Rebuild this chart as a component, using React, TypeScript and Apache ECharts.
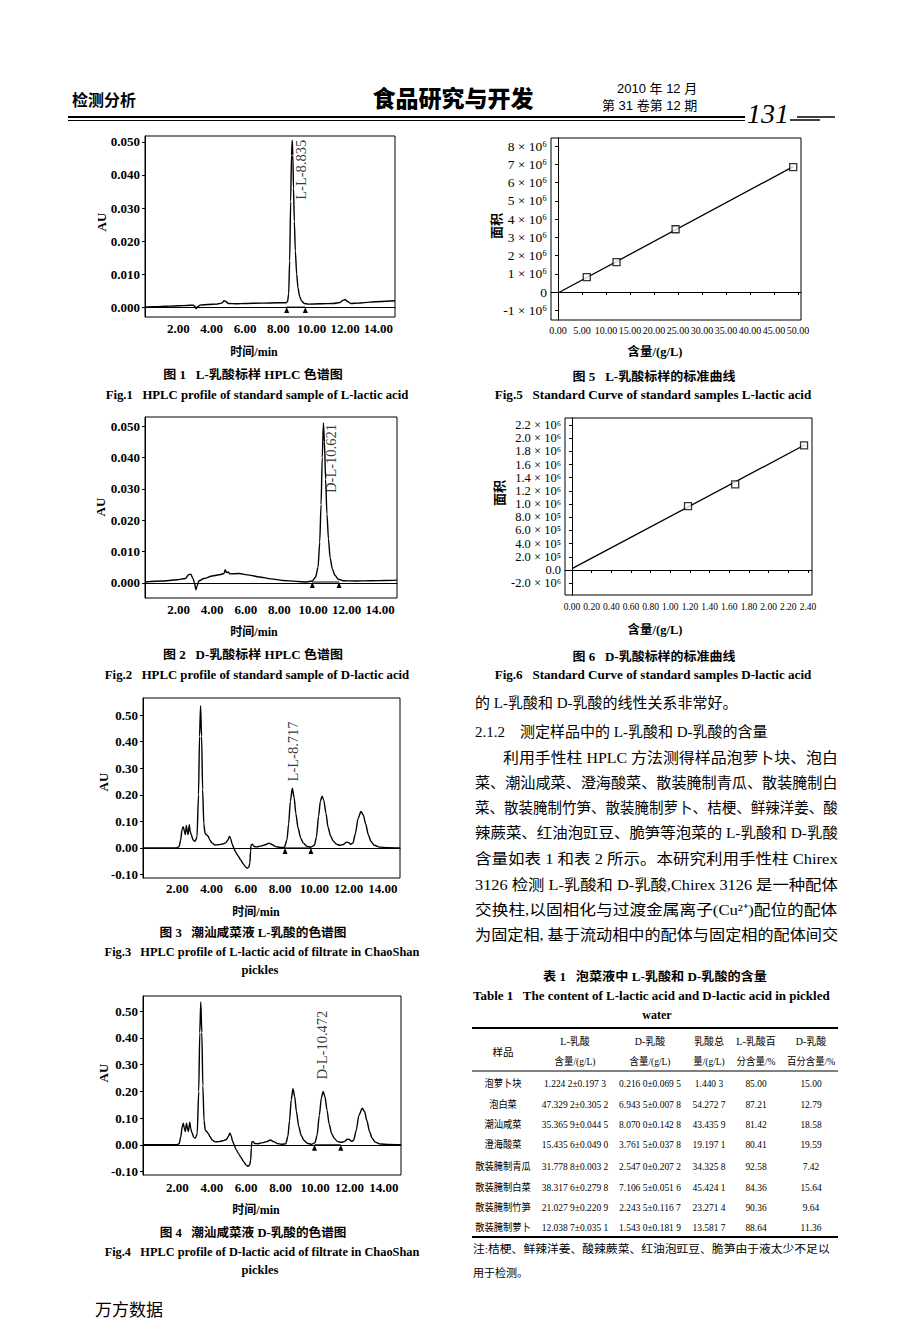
import React, { useEffect, useRef } from "react";
import * as echarts from "echarts";

const SERIF = "'Liberation Serif', 'Noto Sans CJK SC', serif";
const SANS = "'Liberation Sans', 'Noto Sans CJK SC', sans-serif";
const CJK = "'Noto Sans CJK SC', sans-serif";

// ---------- axis ticks / labels ----------
const timeTicks = [2, 4, 6, 8, 10, 12, 14];
const auTicksStd = [0, 0.01, 0.02, 0.03, 0.04, 0.05];
const auTicksSample = [-0.1, 0, 0.1, 0.2, 0.3, 0.4, 0.5];
const fig5XTicks = [0, 5, 10, 15, 20, 25, 30, 35, 40, 45, 50];
const fig5YTicks = [-1e6, 0, 1e6, 2e6, 3e6, 4e6, 5e6, 6e6, 7e6, 8e6];
const fig5YLabels = ["-1 × 10⁶", "0", "1 × 10⁶", "2 × 10⁶", "3 × 10⁶", "4 × 10⁶", "5 × 10⁶", "6 × 10⁶", "7 × 10⁶", "8 × 10⁶"];
const fig6XTicks = [0, 0.2, 0.4, 0.6, 0.8, 1.0, 1.2, 1.4, 1.6, 1.8, 2.0, 2.2, 2.4];
const fig6YTicks = [-2e5, 0, 2e5, 4e5, 6e5, 8e5, 1e6, 1.2e6, 1.4e6, 1.6e6, 1.8e6, 2.0e6, 2.2e6];
const fig6YLabels = ["-2.0 × 10⁶", "0.0", "2.0 × 10⁵", "4.0 × 10⁵", "6.0 × 10⁵", "8.0 × 10⁵", "1.0 × 10⁶", "1.2 × 10⁶", "1.4 × 10⁶", "1.6 × 10⁶", "1.8 × 10⁶", "2.0 × 10⁶", "2.2 × 10⁶"];

// ---------- chromatograms [time(min), AU] ----------
const fig1Trace = [
  [0, 0.0], [0.5, 0.0001], [1, 0.0002], [1.5, 0.0003], [2, 0.0004], [2.5, 0.0005], [2.9, 0.0006], [3.0, 0.0002], [3.07, -0.0005], [3.15, 0.0001], [3.3, 0.0006],
  [3.8, 0.0008], [4.3, 0.0009], [4.6, 0.0012], [4.75, 0.0019], [4.85, 0.0017], [5.0, 0.0011], [5.5, 0.001], [6, 0.0011], [7, 0.0012], [8, 0.0013], [8.45, 0.0013],
  [8.55, 0.0016], [8.62, 0.004], [8.68, 0.014], [8.74, 0.032], [8.79, 0.046], [8.835, 0.0505], [8.87, 0.046], [8.91, 0.036], [8.96, 0.026], [9.02, 0.017],
  [9.1, 0.01], [9.18, 0.0058], [9.28, 0.0032], [9.4, 0.0018], [9.55, 0.0011], [9.8, 0.0009], [10.5, 0.001], [11.3, 0.0011], [11.7, 0.0014], [11.9, 0.0021],
  [12.0, 0.0023], [12.15, 0.0017], [12.35, 0.0011], [12.8, 0.0012], [13.5, 0.0015], [14.2, 0.0017], [15, 0.0019],
];
const fig1Marks = [[8.5, 0], [9.62, 0]];
const fig1Peak = { t: 9.4, au: 0.0505, name: "L-L-8.835" };

const fig2Trace = [
  [0, 0.0003], [1, 0.0006], [1.9, 0.001], [2.4, 0.0014], [2.6, 0.0026], [2.72, 0.0028], [2.85, 0.0015], [2.95, 0.0], [3.03, -0.0022], [3.1, -0.001], [3.2, 0.0006],
  [3.5, 0.0014], [4.0, 0.0022], [4.5, 0.0027], [4.7, 0.003], [4.78, 0.0042], [4.85, 0.0033], [4.95, 0.0035], [5.05, 0.0029], [5.6, 0.003], [6.2, 0.0025],
  [6.8, 0.0019], [7.5, 0.0013], [8.2, 0.0008], [9.0, 0.0005], [9.6, 0.0003], [9.95, 0.0006], [10.15, 0.0018], [10.3, 0.005], [10.4, 0.013], [10.48, 0.025],
  [10.55, 0.04], [10.621, 0.051], [10.68, 0.045], [10.75, 0.033], [10.83, 0.022], [10.92, 0.014], [11.02, 0.008], [11.15, 0.0045], [11.3, 0.0025],
  [11.5, 0.0012], [11.8, 0.0007], [12.5, 0.0006], [13.5, 0.0007], [14.3, 0.0008], [15, 0.0009],
];
const fig2Marks = [[9.96, 0.0003], [11.55, 0.0003]];
const fig2Peak = { t: 11.13, au: 0.0505, name: "D-L-10.621" };

const fig3Trace = [
  [0, 0], [1, 0], [1.95, 0], [2.1, 0.004], [2.2, 0.03], [2.28, 0.07], [2.35, 0.08], [2.42, 0.062], [2.47, 0.05], [2.53, 0.085], [2.59, 0.06], [2.63, 0.05],
  [2.7, 0.087], [2.76, 0.06], [2.82, 0.05], [2.92, 0.03], [3.04, 0.025], [3.15, 0.04], [3.24, 0.2], [3.3, 0.42], [3.36, 0.535], [3.42, 0.42], [3.48, 0.22],
  [3.55, 0.09], [3.62, 0.055], [3.7, 0.05], [3.8, 0.044], [3.9, 0.03], [4.02, 0.019], [4.2, 0.011], [4.4, 0.012], [4.65, 0.015], [4.85, 0.02], [4.95, 0.03],
  [5.05, 0.043], [5.12, 0.035], [5.2, 0.015], [5.3, 0.0], [5.4, -0.015], [5.55, -0.03], [5.7, -0.045], [5.85, -0.06], [6.0, -0.072], [6.1, -0.076],
  [6.18, -0.072], [6.24, -0.055], [6.28, -0.01], [6.31, 0.012], [6.38, 0.014], [6.5, 0.005], [6.65, 0.004], [6.9, 0.008], [7.15, 0.012], [7.35, 0.018], [7.55, 0.012],
  [7.75, 0.005], [8.0, 0.002], [8.25, 0.002], [8.4, 0.03], [8.5, 0.09], [8.6, 0.175], [8.717, 0.225], [8.82, 0.19], [8.92, 0.13], [9.05, 0.075], [9.2, 0.038],
  [9.35, 0.019], [9.55, 0.007], [9.8, 0.003], [10.0, 0.01], [10.12, 0.04], [10.25, 0.12], [10.35, 0.175], [10.45, 0.195], [10.55, 0.18], [10.68, 0.13],
  [10.8, 0.078], [10.95, 0.045], [11.1, 0.026], [11.3, 0.014], [11.5, 0.01], [11.7, 0.013], [11.88, 0.022], [12.0, 0.02], [12.12, 0.014], [12.25, 0.018],
  [12.4, 0.055], [12.55, 0.11], [12.72, 0.137], [12.85, 0.125], [13.0, 0.09], [13.15, 0.05], [13.3, 0.025], [13.5, 0.01], [13.8, 0.003], [14.3, 0.001], [15, 0],
];
const fig3Marks = [[8.29, 0], [9.8, 0]];
const fig3Peak = { t: 8.76, au: 0.474, name: "L-L-8.717" };

const fig4Trace = [
  [0, 0], [1, 0], [1.95, 0], [2.1, 0.004], [2.2, 0.03], [2.27, 0.065], [2.34, 0.081], [2.41, 0.06], [2.46, 0.05], [2.53, 0.081], [2.59, 0.06], [2.64, 0.05],
  [2.72, 0.085], [2.78, 0.06], [2.85, 0.045], [2.95, 0.028], [3.04, 0.025], [3.15, 0.04], [3.24, 0.2], [3.3, 0.42], [3.36, 0.535], [3.42, 0.42], [3.48, 0.22],
  [3.55, 0.09], [3.62, 0.055], [3.7, 0.05], [3.8, 0.042], [3.9, 0.03], [4.02, 0.018], [4.2, 0.011], [4.4, 0.012], [4.65, 0.015], [4.85, 0.02], [4.95, 0.03],
  [5.05, 0.043], [5.12, 0.035], [5.2, 0.015], [5.3, 0.0], [5.4, -0.016], [5.55, -0.032], [5.7, -0.048], [5.85, -0.063], [6.0, -0.076], [6.1, -0.08],
  [6.2, -0.076], [6.26, -0.058], [6.3, -0.01], [6.33, 0.012], [6.4, 0.012], [6.5, 0.005], [6.7, 0.004], [6.95, 0.008], [7.2, 0.012], [7.4, 0.018], [7.6, 0.012],
  [7.8, 0.005], [8.05, 0.002], [8.3, 0.004], [8.42, 0.03], [8.52, 0.09], [8.62, 0.17], [8.72, 0.21], [8.82, 0.18], [8.92, 0.125], [9.05, 0.07], [9.2, 0.035],
  [9.35, 0.017], [9.55, 0.006], [9.8, 0.002], [10.0, 0.008], [10.12, 0.035], [10.25, 0.11], [10.37, 0.175], [10.472, 0.2], [10.58, 0.18], [10.7, 0.13],
  [10.82, 0.078], [10.97, 0.042], [11.12, 0.024], [11.3, 0.013], [11.5, 0.009], [11.7, 0.012], [11.88, 0.021], [12.0, 0.02], [12.12, 0.013], [12.25, 0.017],
  [12.4, 0.055], [12.55, 0.11], [12.75, 0.137], [12.88, 0.125], [13.02, 0.09], [13.17, 0.05], [13.32, 0.025], [13.5, 0.01], [13.8, 0.003], [14.3, 0.001], [15, 0],
];
const fig4Marks = [[9.97, 0], [11.5, 0]];
const fig4Peak = { t: 10.41, au: 0.5, name: "D-L-10.472" };

// ---------- standard curves [g/L, area] ----------
const fig5Points = [[6.0, 0.82e6], [12.2, 1.64e6], [24.5, 3.44e6], [49.0, 6.85e6]];
const fig5Fit = [[0, -0.05e6], [49.0, 6.87e6]];
const fig6Points = [[1.18, 0.97e6], [1.66, 1.3e6], [2.36, 1.89e6]];
const fig6Fit = [[0, 0.02e6], [2.37, 1.9e6]];

// ---------- table 1 ----------
const tableHead1 = ["L-乳酸", "D-乳酸", "乳酸总", "L-乳酸百", "D-乳酸"];
const tableHead2 = ["含量/(g/L)", "含量/(g/L)", "量/(g/L)", "分含量/%", "百分含量/%"];
const tableSamples = ["泡萝卜块", "泡白菜", "潮汕咸菜", "澄海酸菜", "散装腌制青瓜", "散装腌制白菜", "散装腌制竹笋", "散装腌制萝卜"];
const tableLContent = ["1.224 2±0.197 3", "47.329 2±0.305 2", "35.365 9±0.044 5", "15.435 6±0.049 0", "31.778 8±0.003 2", "38.317 6±0.279 8", "21.027 9±0.220 9", "12.038 7±0.035 1"];
const tableDContent = ["0.216 0±0.069 5", "6.943 5±0.007 8", "8.070 0±0.142 8", "3.761 5±0.037 8", "2.547 0±0.207 2", "7.106 5±0.051 6", "2.243 5±0.116 7", "1.543 0±0.181 9"];
const tableTotal = ["1.440 3", "54.272 7", "43.435 9", "19.197 1", "34.325 8", "45.424 1", "23.271 4", "13.581 7"];
const tableLPct = ["85.00", "87.21", "81.42", "80.41", "92.58", "84.36", "90.36", "88.64"];
const tableDPct = ["15.00", "12.79", "18.58", "19.59", "7.42", "15.64", "9.64", "11.36"];

// ---------- body text ----------
const bodyLines = [
  "的 L-乳酸和 D-乳酸的线性关系非常好。",
  "2.1.2",
  "利用手性柱 HPLC 方法测得样品泡萝卜块、泡白",
  "菜、潮汕咸菜、澄海酸菜、散装腌制青瓜、散装腌制白",
  "菜、散装腌制竹笋、散装腌制萝卜、桔梗、鲜辣洋姜、酸",
  "辣蕨菜、红油泡豇豆、脆笋等泡菜的 L-乳酸和 D-乳酸",
  "含量如表 1 和表 2 所示。本研究利用手性柱 Chirex",
  "3126 检测 L-乳酸和 D-乳酸,Chirex 3126 是一种配体",
  "交换柱,以固相化与过渡金属离子(Cu²⁺)配位的配体",
  "为固定相, 基于流动相中的配体与固定相的配体间交",
];
const sectionTitle = "测定样品中的 L-乳酸和 D-乳酸的含量";

function lookup(ticks: number[], labels: string[], v: number) {
  let best = 0;
  for (let i = 1; i < ticks.length; i++) if (Math.abs(ticks[i] - v) < Math.abs(ticks[best] - v)) best = i;
  return labels[best];
}

let measureCtx: CanvasRenderingContext2D | null = null;
function measure(text: string, font: string) {
  if (!measureCtx) measureCtx = document.createElement("canvas").getContext("2d");
  if (!measureCtx) return 0;
  measureCtx.font = font;
  return measureCtx.measureText(text).width;
}

function buildOption() {
  const black = "#000";
  const grids = [
    { left: 145, top: 136, width: 250, height: 181 },
    { left: 145, top: 417, width: 252, height: 181 },
    { left: 143, top: 698, width: 257, height: 180 },
    { left: 143, top: 996, width: 258, height: 179 },
    { left: 551, top: 138, width: 250, height: 182 },
    { left: 565, top: 418, width: 247, height: 177 },
  ].map((g) => ({ ...g, show: true, borderColor: black, borderWidth: 1, backgroundColor: "transparent" }));

  const lineAxis = { show: true, lineStyle: { color: black, width: 1 } };
  const timeAxis = (gi: number, margin: number) => ({
    type: "value", gridIndex: gi, min: 0, max: 15,
    axisLine: lineAxis, axisTick: { show: false }, splitLine: { show: false },
    axisLabel: { customValues: timeTicks, formatter: (v: number) => v.toFixed(2), color: black, fontFamily: SERIF, fontSize: 13, fontWeight: "bold", margin },
  });
  const auAxis = (gi: number, min: number, max: number, ticks: number[], dec: number) => ({
    type: "value", gridIndex: gi, min, max,
    axisLine: lineAxis, splitLine: { show: false },
    axisTick: { show: true, customValues: ticks, length: 3, lineStyle: { color: black } },
    axisLabel: { customValues: ticks, formatter: (v: number) => v.toFixed(dec), color: black, fontFamily: SERIF, fontSize: 13, fontWeight: "bold", margin: 5 },
  });

  const xAxis = [
    timeAxis(0, 5), timeAxis(1, 5), timeAxis(2, 4), timeAxis(3, 6),
    {
      type: "value", gridIndex: 4, min: -1.45, max: 50.62, axisLine: lineAxis, splitLine: { show: false },
      axisTick: { show: true, customValues: fig5XTicks, length: 3, lineStyle: { color: black } },
      axisLabel: { customValues: fig5XTicks, formatter: (v: number) => v.toFixed(2), color: black, fontFamily: SERIF, fontSize: 10, margin: 5 },
    },
    {
      type: "value", gridIndex: 5, min: -0.071, max: 2.441, axisLine: lineAxis, splitLine: { show: false },
      axisTick: { show: true, customValues: fig6XTicks, length: 3, lineStyle: { color: black } },
      axisLabel: { customValues: fig6XTicks, formatter: (v: number) => v.toFixed(2), color: black, fontFamily: SERIF, fontSize: 9.5, margin: 7 },
    },
  ];
  const yAxis = [
    auAxis(0, -0.003, 0.0518, auTicksStd, 3),
    auAxis(1, -0.0048, 0.0529, auTicksStd, 3),
    auAxis(2, -0.113, 0.564, auTicksSample, 2),
    auAxis(3, -0.113, 0.557, auTicksSample, 2),
    {
      type: "value", gridIndex: 4, min: -1.53e6, max: 8.44e6, axisLine: lineAxis, splitLine: { show: false },
      axisTick: { show: true, customValues: fig5YTicks, length: 3, lineStyle: { color: black } },
      axisLabel: { customValues: fig5YTicks, formatter: (v: number) => lookup(fig5YTicks, fig5YLabels, v), color: black, fontFamily: SERIF, fontSize: 13.5, margin: 4 },
    },
    {
      type: "value", gridIndex: 5, min: -0.379e6, max: 2.306e6, axisLine: lineAxis, splitLine: { show: false },
      axisTick: { show: true, customValues: fig6YTicks, length: 3, lineStyle: { color: black } },
      axisLabel: { customValues: fig6YTicks, formatter: (v: number) => lookup(fig6YTicks, fig6YLabels, v), color: black, fontFamily: SERIF, fontSize: 12.5, margin: 4 },
    },
  ];

  const series: any[] = [];
  const chrom = [
    { trace: fig1Trace, marks: fig1Marks, peak: fig1Peak },
    { trace: fig2Trace, marks: fig2Marks, peak: fig2Peak },
    { trace: fig3Trace, marks: fig3Marks, peak: fig3Peak },
    { trace: fig4Trace, marks: fig4Marks, peak: fig4Peak },
  ];
  chrom.forEach((c, i) => {
    series.push({
      type: "line", xAxisIndex: i, yAxisIndex: i, data: c.trace, symbol: "none", smooth: 0.25, smoothMonotone: "x",
      lineStyle: { color: black, width: 1.4 }, silent: true, z: 3,
    });
    series.push({
      type: "line", xAxisIndex: i, yAxisIndex: i, data: c.marks, symbol: "triangle", symbolSize: [5, 6], symbolOffset: [0, 3],
      itemStyle: { color: black }, lineStyle: { color: black, width: 1 }, silent: true, z: 4,
    });
    series.push({
      type: "scatter", xAxisIndex: i, yAxisIndex: i, data: [[c.peak.t, c.peak.au]], symbolSize: 1,
      itemStyle: { color: "rgba(0,0,0,0)" }, silent: true, z: 5,
      label: {
        show: true, formatter: c.peak.name, position: [0, 0], rotate: 90, align: "right", verticalAlign: "middle",
        color: black, fontFamily: SERIF, fontSize: 14.5,
      },
    });
  });
  [
    { fit: fig5Fit, pts: fig5Points, gi: 4 },
    { fit: fig6Fit, pts: fig6Points, gi: 5 },
  ].forEach((s) => {
    series.push({ type: "line", xAxisIndex: s.gi, yAxisIndex: s.gi, data: s.fit, symbol: "none", lineStyle: { color: black, width: 1.3 }, silent: true });
    series.push({
      type: "scatter", xAxisIndex: s.gi, yAxisIndex: s.gi, data: s.pts, symbol: "rect", symbolSize: 7,
      itemStyle: { color: "#fff", borderColor: black, borderWidth: 1.3 }, silent: true, z: 4,
    });
  });

  // ---------- graphic texts ----------
  const g: any[] = [];
  const T = (x: number, y: number, text: string, o: any = {}) => {
    const ff = o.ff || SERIF, fs = o.fs || 12, fw = o.fw || "normal", fst = o.fst || "normal";
    let scaleX = o.sx || 1;
    if (o.w) {
      const m = measure(text, `${fst} ${fw} ${fs}px ${ff}`);
      if (m > 0) scaleX = o.w / m;
    }
    g.push({
      type: "text", x, y, rotation: o.rot || 0, scaleX, silent: true, z: 10,
      style: {
        text, fill: black, align: o.align || "left", verticalAlign: "middle",
        fontFamily: ff, fontSize: fs, fontWeight: fw, fontStyle: fst,
      },
    });
  };
  const L = (x1: number, y1: number, x2: number, y2: number, w: number) => {
    g.push({ type: "line", silent: true, z: 10, shape: { x1, y1, x2, y2 }, style: { stroke: black, lineWidth: w } });
  };

  // header
  T(72, 99, "检测分析", { ff: CJK, fs: 16, fw: "bold" });
  T(453, 97, "食品研究与开发", { ff: CJK, fs: 23, fw: 900, align: "center" });
  T(617, 88, "2010 年 12 月", { ff: SANS, fs: 13 });
  T(602, 105, "第 31 卷第 12 期", { ff: SANS, fs: 13 });
  T(747, 113, "131", { fs: 28, fst: "italic" });
  L(68, 117, 745, 117, 2.2);
  L(68, 120.5, 745, 120.5, 1);
  L(797, 117, 835, 117, 1.5);
  L(790, 120, 820, 120, 1.5);

  // axis names
  T(101, 222, "AU", { fs: 13, fw: "bold", rot: Math.PI / 2, align: "center" });
  T(100, 507, "AU", { fs: 13, fw: "bold", rot: Math.PI / 2, align: "center" });
  T(103, 782, "AU", { fs: 13, fw: "bold", rot: Math.PI / 2, align: "center" });
  T(103, 1073, "AU", { fs: 13, fw: "bold", rot: Math.PI / 2, align: "center" });
  T(495, 226, "面积", { ff: CJK, fs: 13, fw: "bold", rot: Math.PI / 2, align: "center" });
  T(498, 493, "面积", { ff: CJK, fs: 13, fw: "bold", rot: Math.PI / 2, align: "center" });
  T(254, 352, "时间/min", { fs: 12, fw: "bold", align: "center" });
  T(254, 632, "时间/min", { fs: 12, fw: "bold", align: "center" });
  T(256, 912, "时间/min", { fs: 12, fw: "bold", align: "center" });
  T(256, 1210, "时间/min", { fs: 12, fw: "bold", align: "center" });
  T(655, 352, "含量/(g/L)", { fs: 12.5, fw: "bold", align: "center" });
  T(655, 630, "含量/(g/L)", { fs: 12.5, fw: "bold", align: "center" });

  // captions
  T(253, 375, "图 1   L-乳酸标样 HPLC 色谱图", { fs: 12.5, fw: "bold", align: "center", w: 180 });
  T(257, 395, "Fig.1   HPLC profile of standard sample of L-lactic acid", { fs: 12.5, fw: "bold", align: "center", w: 303 });
  T(253, 655, "图 2   D-乳酸标样 HPLC 色谱图", { fs: 12.5, fw: "bold", align: "center", w: 180 });
  T(257, 675, "Fig.2   HPLC profile of standard sample of D-lactic acid", { fs: 12.5, fw: "bold", align: "center", w: 305 });
  T(253, 933, "图 3   潮汕咸菜液 L-乳酸的色谱图", { fs: 12.5, fw: "bold", align: "center", w: 187 });
  T(262, 952, "Fig.3   HPLC profile of L-lactic acid of filtrate in ChaoShan", { fs: 12.5, fw: "bold", align: "center", w: 315 });
  T(260, 970, "pickles", { fs: 12.5, fw: "bold", align: "center" });
  T(253, 1233, "图 4   潮汕咸菜液 D-乳酸的色谱图", { fs: 12.5, fw: "bold", align: "center", w: 187 });
  T(262, 1252, "Fig.4   HPLC profile of D-lactic acid of filtrate in ChaoShan", { fs: 12.5, fw: "bold", align: "center", w: 315 });
  T(260, 1270, "pickles", { fs: 12.5, fw: "bold", align: "center" });
  T(654, 377, "图 5   L-乳酸标样的标准曲线", { fs: 12.5, fw: "bold", align: "center", w: 163 });
  T(653, 395, "Fig.5   Standard Curve of standard samples L-lactic acid", { fs: 12.5, fw: "bold", align: "center", w: 317 });
  T(654, 657, "图 6   D-乳酸标样的标准曲线", { fs: 12.5, fw: "bold", align: "center", w: 163 });
  T(653, 675, "Fig.6   Standard Curve of standard samples D-lactic acid", { fs: 12.5, fw: "bold", align: "center", w: 317 });

  // body text (justified lines stretched to the column width)
  const bodyY = [703, 732, 758, 783, 808, 833, 859, 885, 910, 935];
  bodyLines.forEach((s, i) => {
    const x = i === 2 ? 503 : 475;
    const justify = i >= 2;
    T(x, bodyY[i], s, { fs: 15, w: justify ? 838 - x : undefined });
  });
  T(520, bodyY[1], sectionTitle, { fs: 15 });

  // table
  T(655, 977, "表 1   泡菜液中 L-乳酸和 D-乳酸的含量", { fs: 12.5, fw: "bold", align: "center", w: 224 });
  T(473, 996, "Table 1   The content of L-lactic acid and D-lactic acid in pickled", { fs: 12, fw: "bold", w: 357 });
  T(657, 1015, "water", { fs: 12, fw: "bold", align: "center" });
  L(472, 1028, 838, 1028, 2);
  L(472, 1071, 838, 1071, 1);
  L(472, 1237, 838, 1237, 2);
  const colX = [503, 575, 650, 709, 756, 811];
  T(colX[0], 1052, "样品", { fs: 10.5, align: "center" });
  tableHead1.forEach((h, i) => T(colX[i + 1], 1041, h, { fs: 10.5, align: "center", sx: 0.95 }));
  tableHead2.forEach((h, i) => T(colX[i + 1], 1061, h, { fs: 10.5, align: "center", sx: 0.9 }));
  const rowY = [1083, 1104, 1124, 1144, 1166, 1187, 1207, 1227];
  tableSamples.forEach((s, r) => {
    T(colX[0], rowY[r], s, { fs: 10.5, align: "center", sx: 0.88 });
    T(colX[1], rowY[r], tableLContent[r], { fs: 10.5, align: "center", sx: 0.9 });
    T(colX[2], rowY[r], tableDContent[r], { fs: 10.5, align: "center", sx: 0.9 });
    T(colX[3], rowY[r], tableTotal[r], { fs: 10.5, align: "center", sx: 0.9 });
    T(colX[4], rowY[r], tableLPct[r], { fs: 10.5, align: "center", sx: 0.9 });
    T(colX[5], rowY[r], tableDPct[r], { fs: 10.5, align: "center", sx: 0.9 });
  });
  T(473, 1249, "注:桔梗、鲜辣洋姜、酸辣蕨菜、红油泡豇豆、脆笋由于液太少不足以", { fs: 11, w: 357 });
  T(473, 1273, "用于检测。", { fs: 11 });

  // footer
  T(95, 1308, "万方数据", { ff: CJK, fs: 17 });

  return {
    animation: false,
    backgroundColor: "#fff",
    grid: grids,
    xAxis,
    yAxis,
    series,
    graphic: g,
  };
}

export default function App() {
  const ref = useRef<HTMLDivElement>(null);
  useEffect(() => {
    const chart = echarts.init(ref.current!, null, { renderer: "svg" });
    chart.setOption(buildOption() as any);
    return () => chart.dispose();
  }, []);
  return <div ref={ref} style={{ position: "absolute", left: 0, top: 0, width: 920, height: 1344, background: "#fff" }} />;
}
